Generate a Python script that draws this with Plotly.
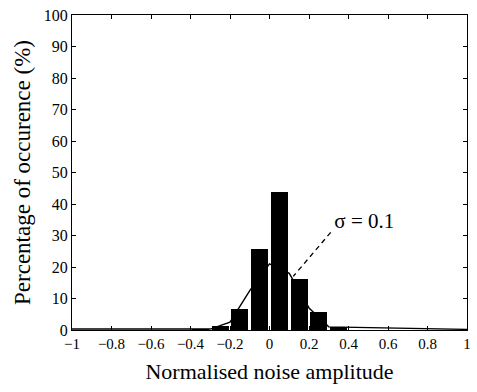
import plotly.graph_objects as go

# Histogram of normalised noise amplitude (bin centres, percentage per bin)
bin_centres = [-0.35, -0.25, -0.15, -0.05, 0.05, 0.15, 0.25, 0.35]
bin_pct = [0.3, 1.4, 6.7, 25.6, 43.8, 16.2, 5.8, 1.0]

# Fitted distribution curve (sigma = 0.1)
fit_x = [-1.0, -0.3, -0.2, -0.1, 0.0, 0.1, 0.2, 0.3, 1.0]
fit_y = [0.3, 0.3, 2.5, 12.5, 21.0, 18.0, 7.0, 1.0, 0.2]

x_ticks = [-1, -0.8, -0.6, -0.4, -0.2, 0, 0.2, 0.4, 0.6, 0.8, 1]
x_tick_text = ["\u22121", "\u22120.8", "\u22120.6", "\u22120.4", "\u22120.2", "0",
               "0.2", "0.4", "0.6", "0.8", "1"]
y_ticks = list(range(0, 101, 10))

font_family = "Times New Roman, Liberation Serif, DejaVu Serif, serif"

fig = go.Figure()
fig.add_trace(go.Scatter(x=fit_x, y=fit_y, mode="lines",
                         line=dict(color="black", width=1.4),
                         showlegend=False, hoverinfo="skip"))
fig.add_trace(go.Bar(x=bin_centres, y=bin_pct, width=0.085,
                     marker=dict(color="black", line=dict(width=0)),
                     showlegend=False))

# Dashed pointer from the sigma label to the fitted curve
fig.add_shape(type="line", x0=0.31, y0=31, x1=0.12, y1=17,
              line=dict(color="black", width=1.3, dash="5px,4px"))
fig.add_trace(go.Scatter(x=[0.48], y=[34], mode="text", text=["\u03c3 = 0.1"],
                         textposition="middle center",
                         textfont=dict(size=21, color="black", family=font_family),
                         showlegend=False, hoverinfo="skip"))

axis_common = dict(showline=True, linecolor="black", linewidth=1, mirror="ticks",
                   ticks="inside", ticklen=4, tickcolor="black", showgrid=False,
                   zeroline=False)

fig.update_xaxes(range=[-1, 1], tickvals=x_ticks, ticktext=x_tick_text,
                 tickfont=dict(size=15, color="black", family=font_family),
                 title=dict(text="Normalised noise amplitude", standoff=12,
                            font=dict(size=22, color="black", family=font_family)),
                 **axis_common)
fig.update_yaxes(range=[0, 100], tickvals=y_ticks,
                 tickfont=dict(size=16, color="black", family=font_family),
                 title=dict(text="Percentage of occurence (%)", standoff=6,
                            font=dict(size=23, color="black", family=font_family)),
                 **axis_common)

fig.update_layout(width=477, height=392, margin=dict(l=72, r=6, t=15, b=62),
                  font=dict(family=font_family, color="black"),
                  plot_bgcolor="white", paper_bgcolor="white", bargap=0)

fig.write_html("out.html")
